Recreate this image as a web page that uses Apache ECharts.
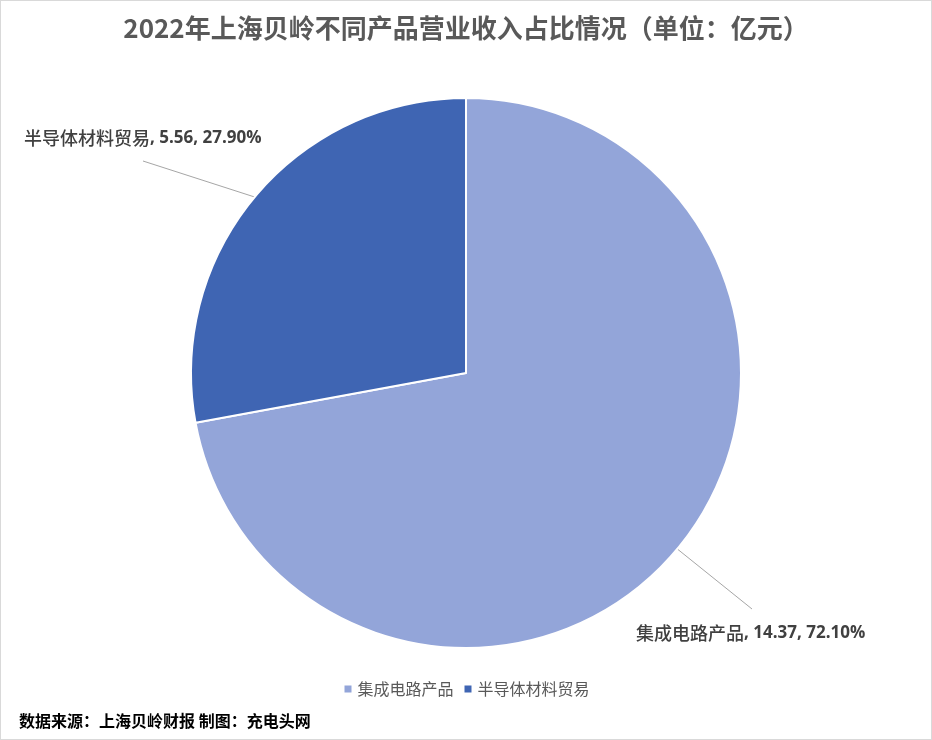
<!DOCTYPE html>
<html>
<head>
<meta charset="utf-8">
<script src="https://cdn.jsdelivr.net/npm/echarts@6/dist/echarts.min.js"></script>
<style>
html,body{margin:0;padding:0;background:#fff;}
#wrap{position:relative;width:932px;height:740px;}
#chart{position:absolute;left:0;top:0;width:932px;height:740px;}
#frame{position:absolute;left:0;top:0;width:932px;height:740px;box-sizing:border-box;border:1px solid #D9D9D9;pointer-events:none;}
</style>
</head>
<body>
<div id="wrap"><div id="chart"></div><div id="frame"></div></div>
<script>
var titleText = '2022年上海贝岭不同产品营业收入占比情况（单位：亿元）';
var sourceText = '数据来源：上海贝岭财报 制图：充电头网';
var categories = ['集成电路产品', '半导体材料贸易'];
var values = [14.37, 5.56];
var colors = ['#93A5D9', '#3F65B3'];

var FONT = '"Noto Sans CJK SC", "Noto Sans", sans-serif';

var labelPos = [
  {x: 636, y: 633, end: [752, 609]},
  {x: 24, y: 138, end: [143, 161]}
];

var chart = echarts.init(document.getElementById('chart'));
chart.setOption({
  backgroundColor: '#ffffff',
  animation: false,
  title: [{
    text: titleText,
    left: 'center',
    top: 10,
    textStyle: {fontFamily: FONT, fontSize: 26, fontWeight: 'bold', color: '#595959'}
  }, {
    text: sourceText,
    left: 14,
    top: 708,
    textStyle: {fontFamily: FONT, fontSize: 16, fontWeight: 'bold', color: '#000000'}
  }],
  legend: {
    data: categories,
    left: 'center',
    top: 676,
    icon: 'rect',
    itemWidth: 9,
    itemHeight: 9,
    itemGap: 9,
    textStyle: {fontFamily: FONT, fontSize: 16, color: '#595959'}
  },
  series: [{
    type: 'pie',
    center: [466, 373],
    radius: 275,
    startAngle: 90,
    clockwise: true,
    data: categories.map(function (c, i) {
      return {name: c, value: values[i], itemStyle: {color: colors[i]}};
    }),
    itemStyle: {borderColor: '#ffffff', borderWidth: 2},
    label: {
      show: true,
      position: 'outside',
      overflow: 'none',
      width: 400,
      formatter: function (p) {
        return '{a|' + p.name + '}{b|, ' + p.value.toFixed(2) + ', ' + p.percent.toFixed(2) + '%}';
      },
      rich: {
        a: {fontFamily: FONT, fontSize: 18, fontWeight: 500, color: '#404040'},
        b: {fontFamily: '"Open Sans", "Noto Sans", sans-serif', fontSize: 17, fontWeight: 'bold', color: '#404040'}
      }
    },
    labelLine: {show: true, length: 20, length2: 20, lineStyle: {color: '#A6A6A6', width: 1}},
    labelLayout: function (params) {
      var lp = labelPos[params.dataIndex];
      var pts = params.labelLinePoints;
      var start = pts ? pts[0] : lp.end;
      return {
        x: lp.x,
        y: lp.y,
        align: 'left',
        verticalAlign: 'middle',
        width: 400,
        labelLinePoints: [start, lp.end, lp.end]
      };
    }
  }]
});
</script>
</body>
</html>
